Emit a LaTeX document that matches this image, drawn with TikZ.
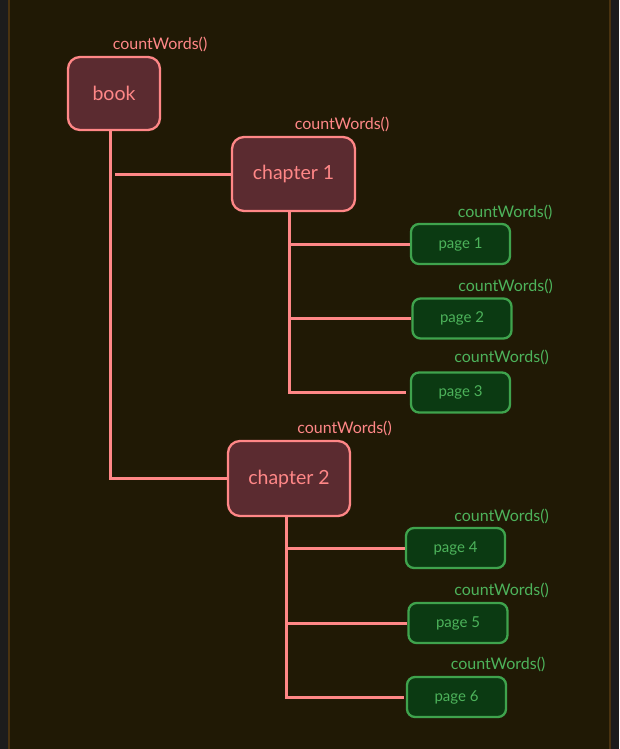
\documentclass[tikz,border=0pt]{standalone}
\usepackage{fontspec}
\setmainfont{Lato}
\definecolor{outerbg}{HTML}{1C1C1C}
\definecolor{innerbg}{HTML}{201905}
\definecolor{framec}{HTML}{4A3310}
\definecolor{salmon}{HTML}{FF8787}
\definecolor{redfill}{HTML}{5B2B30}
\definecolor{greenline}{HTML}{3FA34D}
\definecolor{greenfill}{HTML}{0B3A12}
\definecolor{greentext}{HTML}{4DB35B}
\tikzset{
  bigbox/.style={draw=salmon, fill=redfill, line width=2.3pt, rounded corners=12pt,
    inner sep=0pt, text=salmon, font=\fontsize{19.5}{22}\selectfont},
  pagebox/.style={draw=greenline, fill=greenfill, line width=2.3pt, rounded corners=8pt,
    inner sep=0pt, minimum width=99pt, minimum height=40pt, text=greentext,
    font=\fontsize{15}{18}\selectfont},
  redlabel/.style={text=salmon, inner sep=0pt, font=\fontsize{16}{18}\selectfont},
  greenlabel/.style={text=greentext, inner sep=0pt, font=\fontsize{16}{18}\selectfont},
  conn/.style={draw=salmon, line width=3pt}
}
\begin{document}
\begin{tikzpicture}[x=1pt, y=-1pt]
\useasboundingbox (0,0) rectangle (619,749);
\fill[outerbg] (0,0) rectangle (619,749);
\fill[innerbg] (9,0) rectangle (610,749);
\draw[framec, line width=1.2pt] (9,0) -- (9,749) (610,0) -- (610,749);

% nodes
\node[bigbox, minimum width=92pt, minimum height=73pt] (book) at (114,93.5) {book};
\node[bigbox, minimum width=123pt, minimum height=74pt] (ch1) at (293.5,174) {chapter 1};
\node[bigbox, minimum width=122pt, minimum height=75pt] (ch2) at (289,478.5) {chapter 2};
\node[pagebox] (p1) at (460.5,244) {page 1};
\node[pagebox] (p2) at (462,318.5) {page 2};
\node[pagebox] (p3) at (460.5,392.5) {page 3};
\node[pagebox] (p4) at (455.5,548) {page 4};
\node[pagebox] (p5) at (458,623) {page 5};
\node[pagebox] (p6) at (456.5,697) {page 6};

% labels
\node[redlabel] (lb) at (160,44) {countWords()};
\node[redlabel] (l1) at (342,124) {countWords()};
\node[redlabel] (l2) at (344.5,428) {countWords()};
\node[greenlabel] (lp1) at (505,212) {countWords()};
\node[greenlabel] (lp2) at (505.5,286) {countWords()};
\node[greenlabel] (lp3) at (501.5,357) {countWords()};
\node[greenlabel] (lp4) at (501.5,516) {countWords()};
\node[greenlabel] (lp5) at (501.5,590) {countWords()};
\node[greenlabel] (lp6) at (498,664) {countWords()};

% connectors
\coordinate (bk) at ([xshift=-4pt]book.south);
\coordinate (c1) at ([xshift=-4.5pt]ch1.south);
\coordinate (c2) at ([xshift=-3pt]ch2.south);
\draw[conn] (bk) |- (ch2.west);
\draw[conn] ([xshift=5pt]ch1.west -| bk) -- (ch1.west);
\draw[conn] (c1) |- ([xshift=-4pt]p3.west);
\draw[conn] (c1 |- p1.west) -- (p1.west);
\draw[conn] (c1 |- p2.west) -- (p2.west);
\draw[conn] (c2) |- ([xshift=-2pt]p6.west);
\draw[conn] (c2 |- p4.west) -- (p4.west);
\draw[conn] (c2 |- p5.west) -- (p5.west);
\end{tikzpicture}
\end{document}
